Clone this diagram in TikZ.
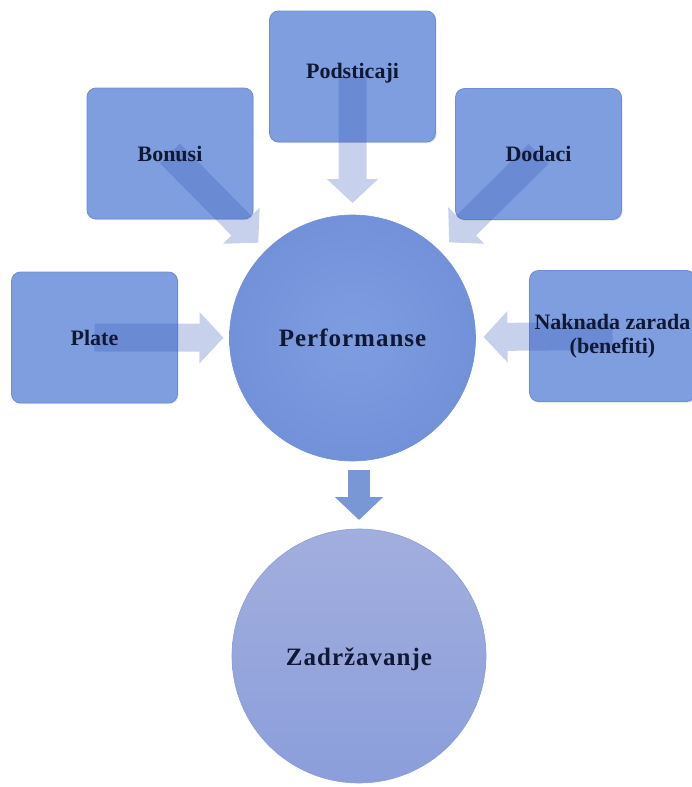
\documentclass[tikz,border=0pt]{standalone}
\usepackage{fontspec}
\setmainfont{Liberation Serif}
\newfontfamily\widefont[LetterSpace=4]{Liberation Serif}
\usetikzlibrary{arrows.meta,shadows}

\definecolor{boxblue}{HTML}{7F9EE0}
\definecolor{boxedge}{HTML}{6F8DD4}
\definecolor{perfin}{HTML}{7E9DE1}
\definecolor{perfout}{HTML}{7391D9}
\definecolor{zadtop}{HTML}{A2AEDD}
\definecolor{zadbot}{HTML}{8B9EDB}
\definecolor{arrowblue}{RGB}{50,85,180}
\definecolor{textnavy}{HTML}{111833}

\begin{document}
\begin{tikzpicture}[x=1pt, y=-1pt,
    box/.style={rectangle, rounded corners=9pt, minimum width=166pt, minimum height=131pt,
        inner sep=0pt, outer sep=0pt, fill=boxblue, draw=boxedge, line width=0.8pt,
        drop shadow={shadow xshift=1.2pt, shadow yshift=-1.2pt, opacity=0.2}},
    boxtext/.style={font=\fontsize{22}{24}\selectfont\bfseries, text=textnavy, align=center},
    bigtext/.style={font=\fontsize{25}{28}\selectfont\widefont\bfseries, text=textnavy},
    feed/.style={line width=28pt, arrowblue, -{Triangle[width=50pt, length=24pt]}},
    result/.style={line width=22pt, boxblue!95!black, -{Triangle[width=47pt, length=23pt]},
        shorten <=9pt, shorten >=9pt}]

    \useasboundingbox (0,0) rectangle (691,787);

    % Boxes
    \node[box] (plate) at (94.5,337.5) {};
    \node[box] (bonusi) at (170,153.5) {};
    \node[box] (podsticaji) at (352.5,76.5) {};
    \node[box] (dodaci) at (538.5,154) {};
    \node[box] (naknada) at (612.5,336) {};

    % Circles
    \node[circle, minimum size=246pt, inner sep=0pt, outer sep=0pt, inner color=perfin,
        outer color=perfout, draw=perfout, line width=0.6pt] (perf) at (352.5,338) {};
    \node[circle, minimum size=254pt, inner sep=0pt, outer sep=0pt, top color=zadtop,
        bottom color=zadbot, draw=zadbot, line width=0.6pt] (zadr) at (359,656) {};

    % Light arrows into Performanse
    \begin{scope}[transparency group, opacity=0.27]
        \draw[feed, shorten >=6pt] (plate.center) -- (perf);
        \draw[feed, shorten >=11pt] (bonusi.center) -- (perf);
        \draw[feed, shorten >=12pt] (podsticaji.center) -- (perf);
        \draw[feed, shorten >=13pt] (dodaci.center) -- (perf);
        \draw[feed, shorten >=8pt] (naknada.center) -- (perf);
    \end{scope}

    % Down arrow
    \draw[result] (perf.south -| zadr.north) -- (zadr.north);

    % Labels
    \node[boxtext] (plate-txt) at (plate) {Plate};
    \node[boxtext] (bonusi-txt) at (bonusi) {Bonusi};
    \node[boxtext] (podsticaji-txt) at ([yshift=3pt]podsticaji) {Podsticaji};
    \node[boxtext] (dodaci-txt) at (dodaci) {Dodaci};
    \node[boxtext] (naknada-txt) at (naknada) {Naknada zarada\\(benefiti)};
    \node[bigtext] (perf-txt) at (perf) {Performanse};
    \node[bigtext] (zadr-txt) at ([yshift=-3pt]zadr) {Zadržavanje};

\end{tikzpicture}
\end{document}
